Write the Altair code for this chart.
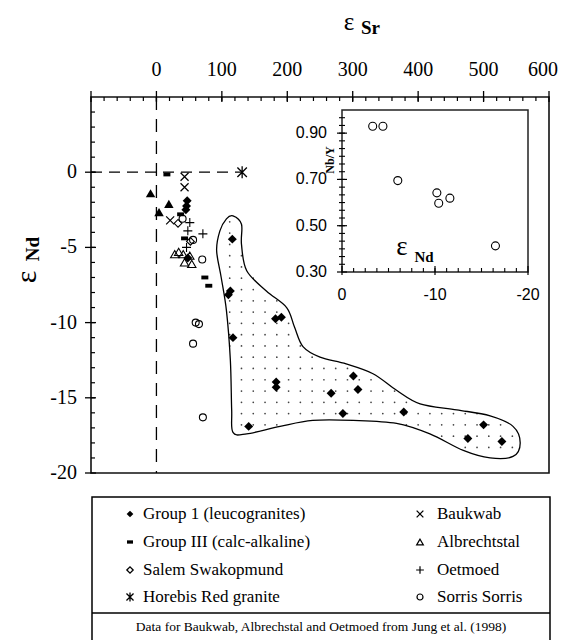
import altair as alt
import numpy as np
import pandas as pd

# ---------------- data ----------------
group1_sr = [47, 46, 45, 48, 116, 110, 113, 117, 182, 191, 183, 183, 141, 267, 301, 308, 285, 378, 500, 476, 528]
group1_nd = [-1.9, -2.25, -2.5, -5.7, -4.45, -8.15, -7.9, -11.0, -9.75, -9.65, -13.95, -14.3, -16.9,
             -14.7, -13.55, -14.45, -16.05, -15.95, -16.8, -17.7, -17.9]
group3_sr = [16, 37, 43, 74, 80]
group3_nd = [-0.15, -2.8, -4.4, -7.0, -7.55]
salem_sr = [33, 52]
salem_nd = [-3.4, -4.6]
horebis_sr = [131]
horebis_nd = [0.0]
baukwab_sr = [43, 43, 21]
baukwab_nd = [-0.3, -1.0, -3.2]
albrecht_sr = [28, 34, 41, 51, 43, 54]
albrecht_nd = [-5.45, -5.3, -5.45, -5.55, -6.0, -6.1]
oetmoed_sr = [51, 71, 46, 48]
oetmoed_nd = [-3.35, -4.1, -5.0, -3.9]
sorris_sr = [40, 56, 70, 60, 65, 56, 71]
sorris_nd = [-3.1, -4.5, -5.8, -10.0, -10.1, -11.4, -16.3]
solidtri_sr = [-9, 19, 4]
solidtri_nd = [-1.4, -2.1, -2.65]

# outline of the Group 1 field
field_sr = [117, 130, 130, 138, 168, 199, 211, 224, 250, 290, 331, 367, 403, 459, 510, 545, 556, 545,
            510, 469, 418, 367, 301, 239, 189, 138, 117, 115, 113, 107, 99, 92, 97, 107]
field_nd = [-2.9, -3.46, -4.8, -6.55, -7.9, -9.0, -10.3, -11.6, -12.3, -12.75, -13.4, -14.5, -15.4, -15.8,
            -16.2, -16.9, -18.0, -18.9, -19.0, -18.5, -17.4, -16.7, -16.5, -16.5, -16.9, -17.4, -17.3,
            -15.8, -12.5, -9.2, -7.0, -5.2, -3.9, -3.1]

# inset: Sorris Sorris, eNd vs Nb/Y
inset_nd = [-3.3, -4.4, -6.0, -10.2, -10.4, -11.6, -16.5]
inset_nby = [0.93, 0.93, 0.695, 0.642, 0.597, 0.619, 0.413]

# axes
sr_labels = [0, 100, 200, 300, 400, 500]
sr_last_label = [600]
sr_major = [-100, 0, 100, 200, 300, 400, 500, 600]
sr_minor = list(range(-80, 600, 20))
nd_labels = [0, -5, -10, -15, -20]
nd_minor = list(range(-19, 5))
in_x_labels = [0, -10, -20]
in_x_minor = [-1.25 * i for i in range(1, 16)]
in_y_labels = [0.3, 0.5, 0.7, 0.9]
in_y_minor = [round(0.3 + i / 30, 4) for i in range(1, 21)]

legend_left = ["Group 1 (leucogranites)", "Group III (calc-alkaline)", "Salem Swakopmund", "Horebis Red granite"]
legend_right = ["Baukwab", "Albrechtstal", "Oetmoed", "Sorris Sorris"]
footnote = "Data for Baukwab, Albrechstal and Oetmoed from Jung et al. (1998)"

# ---------------- layout ----------------
W, H = 458, 376
SERIF = "Liberation Serif"
SANS = "Liberation Sans"
xs = alt.Scale(domain=[-100, 600], nice=False, zero=False)
ys = alt.Scale(domain=[-20, 5], nice=False, zero=False)
ixs = alt.Scale(domain=[0, -20], range=[251, 437], nice=False, zero=False)
iys = alt.Scale(domain=[0.3, 1.0], range=[175, 13], nice=False, zero=False)

X_PATH = "M-1,-1L1,1M-1,1L1,-1"
PLUS_PATH = "M-1,0L1,0M0,-1L0,1"
AST_PATH = "M-1,-1L1,1M-1,1L1,-1M0,-1.25L0,1.25"
DASH_PATH = "M-1,-0.55L1,-0.55L1,0.55L-1,0.55Z"

one = pd.DataFrame({"a": [0]})


def pts(sr, nd, shape, filled, size, sw=1.2):
    df = pd.DataFrame({"sr": sr, "nd": nd})
    return alt.Chart(df).mark_point(shape=shape, filled=filled, size=size, color="black",
                                    strokeWidth=sw, opacity=1).encode(
        x=alt.X("sr:Q", scale=xs, axis=None), y=alt.Y("nd:Q", scale=ys, axis=None))


def txt(s, x, y, size, font=SERIF, weight="normal", align="center", angle=0, baseline="middle"):
    kw = dict(font=font, fontSize=size, fontWeight=weight, align=align, baseline=baseline, color="black")
    if angle:
        kw["angle"] = angle
    return alt.Chart(one).mark_text(**kw).encode(x=alt.value(x), y=alt.value(y), text=alt.value(s))


# dotted texture inside the field
def inside(px, py, polx, poly):
    c = np.zeros(px.shape, dtype=bool)
    n = len(polx)
    j = n - 1
    for i in range(n):
        xi, yi, xj, yj = polx[i], poly[i], polx[j], poly[j]
        cond = ((yi > py) != (yj > py)) & (px < (xj - xi) * (py - yi) / (yj - yi + 1e-12) + xi)
        c ^= cond
        j = i
    return c


gx, gy = np.meshgrid(np.arange(112, 560, 18.0), np.arange(-3.3, -19.2, -0.75))
gx, gy = gx.ravel(), gy.ravel()
mask = inside(gx, gy, np.array(field_sr, float), np.array(field_nd, float))
dots_df = pd.DataFrame({"sr": gx[mask], "nd": gy[mask]})

# ---------------- main panel ----------------
hline = alt.Chart(pd.DataFrame({"x1": [-100], "x2": [horebis_sr[0]], "y": [0]})).mark_rule(
    color="black", strokeWidth=1.3, strokeDash=[11, 7]).encode(
    x=alt.X("x1:Q", scale=xs, axis=None), x2="x2:Q", y=alt.Y("y:Q", scale=ys, axis=None))
vline = alt.Chart(pd.DataFrame({"x": [0], "y1": [5], "y2": [-20]})).mark_rule(
    color="black", strokeWidth=1.3, strokeDash=[13, 9]).encode(
    x=alt.X("x:Q", scale=xs, axis=None), y=alt.Y("y1:Q", scale=ys, axis=None), y2="y2:Q")

top_major = alt.Chart(pd.DataFrame({"v": sr_major})).mark_rule(color="black", strokeWidth=1.3).encode(
    x=alt.X("v:Q", scale=xs, axis=None), y=alt.value(-6), y2=alt.value(5))
top_minor = alt.Chart(pd.DataFrame({"v": sr_minor})).mark_rule(color="black", strokeWidth=1.2).encode(
    x=alt.X("v:Q", scale=xs, axis=None), y=alt.value(0), y2=alt.value(4))
left_major = alt.Chart(pd.DataFrame({"v": nd_labels})).mark_rule(color="black", strokeWidth=1.3).encode(
    y=alt.Y("v:Q", scale=ys, axis=None), x=alt.value(-6), x2=alt.value(5))
left_minor = alt.Chart(pd.DataFrame({"v": nd_minor})).mark_rule(color="black", strokeWidth=1.2).encode(
    y=alt.Y("v:Q", scale=ys, axis=None), x=alt.value(0), x2=alt.value(4))

top_lab = alt.Chart(pd.DataFrame({"v": sr_labels, "t": [str(v) for v in sr_labels]})).mark_text(
    font=SERIF, fontSize=20, align="center", baseline="alphabetic", color="black").encode(
    x=alt.X("v:Q", scale=xs, axis=None), y=alt.value(-21), text="t:N")
top_lab_last = alt.Chart(pd.DataFrame({"v": sr_last_label, "t": [str(v) for v in sr_last_label]})).mark_text(
    font=SERIF, fontSize=20, align="center", baseline="alphabetic", color="black", dx=-6).encode(
    x=alt.X("v:Q", scale=xs, axis=None), y=alt.value(-21), text="t:N")
left_lab = alt.Chart(pd.DataFrame({"v": nd_labels, "t": [str(v) for v in nd_labels]})).mark_text(
    font=SERIF, fontSize=20, align="right", baseline="middle", color="black").encode(
    y=alt.Y("v:Q", scale=ys, axis=None), x=alt.value(-14), text="t:N")

dots = alt.Chart(dots_df).mark_circle(size=3, color="#444", opacity=1).encode(
    x=alt.X("sr:Q", scale=xs, axis=None), y=alt.Y("nd:Q", scale=ys, axis=None))
field = alt.Chart(pd.DataFrame({"sr": field_sr, "nd": field_nd, "i": list(range(len(field_sr)))})).mark_line(
    interpolate="cardinal-closed", color="black", strokeWidth=1.3).encode(
    x=alt.X("sr:Q", scale=xs, axis=None), y=alt.Y("nd:Q", scale=ys, axis=None), order="i:Q")

series = [
    pts(sorris_sr, sorris_nd, "circle", False, 49, 1.1),
    pts(albrecht_sr, albrecht_nd, "triangle-up", False, 70, 1.1),
    pts(oetmoed_sr, oetmoed_nd, PLUS_PATH, False, 81, 1.1),
    pts(salem_sr, salem_nd, "diamond", False, 60, 1.1),
    pts(baukwab_sr, baukwab_nd, X_PATH, False, 64, 1.2),
    pts(horebis_sr, horebis_nd, AST_PATH, False, 90, 1.3),
    pts(solidtri_sr, solidtri_nd, "triangle-up", True, 90),
    pts(group3_sr, group3_nd, DASH_PATH, True, 49),
    pts(group1_sr, group1_nd, "diamond", True, 80),
]

titles = [
    txt("ε", 258, -67, 25, baseline="alphabetic"),
    txt("Sr", 270, -69, 19, weight="bold", align="left"),
    txt("ε", -64, 180, 30, angle=270),
    txt("Nd", -58, 152, 19, weight="bold", angle=270),
]

# legend box
leg_box = alt.Chart(one).mark_rect(fill="white", stroke="black", strokeWidth=1.5).encode(
    x=alt.value(1), x2=alt.value(459), y=alt.value(400), y2=alt.value(560))
leg_div = alt.Chart(one).mark_rule(color="black", strokeWidth=1.5).encode(
    x=alt.value(1), x2=alt.value(459), y=alt.value(516))
legend_layers = [leg_box, leg_div]
left_syms = [("diamond", True, 45, 1.0), (DASH_PATH, True, 36, 1.0), ("diamond", False, 40, 1.3), (AST_PATH, False, 50, 1.3)]
right_syms = [(X_PATH, False, 45, 1.3), ("triangle-up", False, 45, 1.2), (PLUS_PATH, False, 60, 1.2), ("circle", False, 36, 1.2)]
row_y = [417, 445, 473, 500]
for k in range(4):
    for col, (labels, syms, sx, tx) in enumerate([(legend_left, left_syms, 39, 52), (legend_right, right_syms, 329, 346)]):
        shape, filled, size, sw = syms[k]
        legend_layers.append(alt.Chart(one).mark_point(shape=shape, filled=filled, size=size, color="black",
                                                       strokeWidth=sw, opacity=1).encode(
            x=alt.value(sx), y=alt.value(row_y[k])))
        legend_layers.append(txt(labels[k], tx, row_y[k], 17, align="left"))
legend_layers.append(txt(footnote, 230, 530, 13.5))

main = alt.layer(hline, vline, dots, field, top_major, top_minor, left_major, left_minor,
                 top_lab, top_lab_last, left_lab, *series, *titles, *legend_layers)

# ---------------- inset ----------------
in_frame = alt.Chart(one).mark_rect(fill="white", stroke="#222", strokeWidth=1.5).encode(
    x=alt.value(251), x2=alt.value(437), y=alt.value(13), y2=alt.value(175))
in_pts = alt.Chart(pd.DataFrame({"nd": inset_nd, "nby": inset_nby})).mark_point(
    shape="circle", filled=False, size=64, color="black", strokeWidth=1.1, opacity=1).encode(
    x=alt.X("nd:Q", scale=ixs, axis=None), y=alt.Y("nby:Q", scale=iys, axis=None))
in_xmaj = alt.Chart(pd.DataFrame({"v": in_x_labels})).mark_rule(color="black", strokeWidth=1.2).encode(
    x=alt.X("v:Q", scale=ixs, axis=None), y=alt.value(169), y2=alt.value(178))
in_xmin = alt.Chart(pd.DataFrame({"v": in_x_minor})).mark_rule(color="black", strokeWidth=1.1).encode(
    x=alt.X("v:Q", scale=ixs, axis=None), y=alt.value(171), y2=alt.value(175))
in_ymaj = alt.Chart(pd.DataFrame({"v": in_y_labels})).mark_rule(color="black", strokeWidth=1.2).encode(
    y=alt.Y("v:Q", scale=iys, axis=None), x=alt.value(246), x2=alt.value(256))
in_ymin = alt.Chart(pd.DataFrame({"v": in_y_minor})).mark_rule(color="black", strokeWidth=1.1).encode(
    y=alt.Y("v:Q", scale=iys, axis=None), x=alt.value(248), x2=alt.value(254))
in_xlab = alt.Chart(pd.DataFrame({"v": in_x_labels, "t": [str(v) for v in in_x_labels]})).mark_text(
    font=SANS, fontSize=16, align="center", baseline="middle", color="black").encode(
    x=alt.X("v:Q", scale=ixs, axis=None), y=alt.value(198), text="t:N")
in_ylab = alt.Chart(pd.DataFrame({"v": in_y_labels, "t": [f"{v:.2f}" for v in in_y_labels]})).mark_text(
    font=SANS, fontSize=16, align="right", baseline="middle", color="black").encode(
    y=alt.Y("v:Q", scale=iys, axis=None), x=alt.value(236), text="t:N")
in_titles = [
    txt("Nb/Y", 239, 63, 12, weight="bold", angle=270),
    txt("ε", 311, 150, 27),
    txt("Nd", 333, 160, 15, weight="bold"),
]
inset = alt.layer(in_frame, in_xmaj, in_xmin, in_ymaj, in_ymin, in_pts, in_xlab, in_ylab, *in_titles)

chart = alt.layer(main, inset).resolve_scale(x="independent", y="independent").properties(
    width=W, height=H,
    padding={"left": 83, "top": 89, "right": 10, "bottom": 632 - 89 - H},
    autosize=alt.AutoSizeParams(type="none"),
    background="white",
).configure_view(stroke="#111", strokeWidth=1.6)

chart.save("out.html", embed_options={"renderer": "svg", "actions": False})
